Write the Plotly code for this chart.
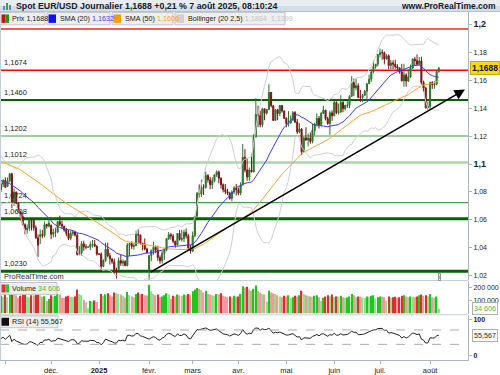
import numpy as np
import pandas as pd
import plotly.graph_objects as go

# ---------------- DATA ----------------
start_date = "2024-10-30"
end_date = "2025-08-07"

# closes before the first visible candle (warm-up for SMA / Bollinger / RSI)
prior_close = [1.1026, 1.1130, 1.1151, 1.1113, 1.1191, 1.1162, 1.1183, 1.1119, 1.1077, 1.1048,
               1.1071, 1.1045, 1.1087, 1.1111, 1.1085, 1.1039, 1.1016, 1.1011, 1.1076, 1.1076,
               1.1132, 1.1116, 1.1117, 1.1162, 1.1163, 1.1111, 1.1180, 1.1133, 1.1176, 1.1163,
               1.1135, 1.1068, 1.1047, 1.1032, 1.0974, 1.0974, 1.0978, 1.0940, 1.0937, 1.0936,
               1.0910, 1.0892, 1.0862, 1.0833, 1.0867, 1.0818, 1.0796, 1.0780, 1.0827, 1.0797,
               1.0815, 1.0815]

open_ = [1.0815, 1.0855, 1.0884, 1.0840, 1.0880, 1.0930, 1.0728, 1.0800, 1.0719, 1.0656, 1.0623, 1.0565,
         1.0530, 1.0541, 1.0598, 1.0596, 1.0543, 1.0472, 1.0480, 1.0494, 1.0488, 1.0566, 1.0555,
         1.0560, 1.0497, 1.0510, 1.0512, 1.0587, 1.0567, 1.0553, 1.0527, 1.0502, 1.0467, 1.0502, 1.0513,
         1.0490, 1.0351, 1.0364, 1.0428, 1.0404, 1.0404, 1.0405, 1.0422, 1.0425, 1.0411,
         1.0354, 1.0354, 1.0266, 1.0308, 1.0389, 1.0342, 1.0319, 1.0299, 1.0244, 1.0244, 1.0307, 1.0289,
         1.0301, 1.0272, 1.0419, 1.0430, 1.0408, 1.0415, 1.0495, 1.0491, 1.0431, 1.0421, 1.0390,
         1.0240, 1.0343, 1.0378, 1.0403, 1.0383, 1.0329, 1.0306, 1.0360, 1.0381, 1.0465, 1.0493, 1.0483,
         1.0446, 1.0420, 1.0502, 1.0459, 1.0466, 1.0510, 1.0485, 1.0398,
         1.0375, 1.0486, 1.0626, 1.0790, 1.0784, 1.0834, 1.0833, 1.0918, 1.0888, 1.0852, 1.0880, 1.0923,
         1.0944, 1.0899, 1.0852, 1.0816, 1.0802, 1.0791, 1.0753, 1.0799, 1.0829,
         1.0816, 1.0792, 1.0852, 1.1049, 1.0958, 1.0908, 1.0958, 1.0944, 1.1196, 1.1357, 1.1347, 1.1283,
         1.1397, 1.1366, 1.1392, 1.1515, 1.1419, 1.1314, 1.1390, 1.1363, 1.1421, 1.1382,
         1.1329, 1.1291, 1.1297, 1.1315, 1.1370, 1.1302, 1.1232, 1.1252, 1.1089, 1.1189, 1.1174, 1.1187,
         1.1163, 1.1241, 1.1285, 1.1329, 1.1282, 1.1364, 1.1387, 1.1326, 1.1292, 1.1368,
         1.1347, 1.1443, 1.1370, 1.1374, 1.1444, 1.1398, 1.1422, 1.1422, 1.1487, 1.1585, 1.1548, 1.1563,
         1.1481, 1.1479, 1.1495, 1.1523, 1.1578, 1.1609, 1.1661, 1.1701, 1.1718,
         1.1787, 1.1801, 1.1800, 1.1755, 1.1778, 1.1708, 1.1727, 1.1718, 1.1700, 1.1690, 1.1663, 1.1598,
         1.1640, 1.1597, 1.1626, 1.1690, 1.1754, 1.1743, 1.1717, 1.1741, 1.1587, 1.1546, 1.1404,
         1.1415, 1.1586, 1.1570, 1.1573, 1.1664]

high = [1.0870, 1.0890, 1.0905, 1.0904, 1.0937, 1.0937, 1.0826, 1.0802, 1.0727, 1.0666, 1.0653, 1.0575,
        1.0567, 1.0607, 1.0609, 1.0608, 1.0560, 1.0495, 1.0532, 1.0527, 1.0588, 1.0572, 1.0597,
        1.0567, 1.0537, 1.0544, 1.0591, 1.0630, 1.0594, 1.0558, 1.0542, 1.0528, 1.0523, 1.0525, 1.0515,
        1.0507, 1.0412, 1.0447, 1.0450, 1.0425, 1.0410, 1.0444, 1.0456, 1.0455, 1.0417,
        1.0360, 1.0366, 1.0317, 1.0437, 1.0436, 1.0363, 1.0323, 1.0322, 1.0256, 1.0330, 1.0353, 1.0316,
        1.0310, 1.0434, 1.0436, 1.0446, 1.0433, 1.0522, 1.0533, 1.0493, 1.0435, 1.0467, 1.0401,
        1.0347, 1.0388, 1.0442, 1.0416, 1.0414, 1.0345, 1.0375, 1.0400, 1.0470, 1.0513, 1.0506, 1.0497,
        1.0450, 1.0505, 1.0528, 1.0528, 1.0529, 1.0538, 1.0499, 1.0418,
        1.0516, 1.0628, 1.0800, 1.0854, 1.0889, 1.0855, 1.0947, 1.0929, 1.0908, 1.0906, 1.0928, 1.0955,
        1.0954, 1.0905, 1.0862, 1.0857, 1.0822, 1.0802, 1.0812, 1.0842, 1.0858,
        1.0832, 1.0870, 1.1145, 1.1108, 1.1045, 1.0976, 1.1075, 1.1215, 1.1474, 1.1420, 1.1384, 1.1404,
        1.1400, 1.1396, 1.1573, 1.1519, 1.1425, 1.1395, 1.1397, 1.1424, 1.1425, 1.1385,
        1.1336, 1.1381, 1.1349, 1.1381, 1.1380, 1.1324, 1.1294, 1.1258, 1.1197, 1.1265, 1.1219, 1.1228,
        1.1288, 1.1297, 1.1364, 1.1346, 1.1376, 1.1419, 1.1390, 1.1340, 1.1384, 1.1387,
        1.1454, 1.1451, 1.1435, 1.1495, 1.1452, 1.1426, 1.1452, 1.1495, 1.1631, 1.1614, 1.1614, 1.1580,
        1.1533, 1.1503, 1.1532, 1.1580, 1.1642, 1.1679, 1.1744, 1.1719, 1.1790,
        1.1830, 1.1823, 1.1808, 1.1790, 1.1788, 1.1748, 1.1746, 1.1749, 1.1717, 1.1695, 1.1720, 1.1721,
        1.1653, 1.1680, 1.1715, 1.1760, 1.1770, 1.1788, 1.1768, 1.1771, 1.1599, 1.1555, 1.1450,
        1.1592, 1.1595, 1.1595, 1.1671, 1.1698]

low = [1.0800, 1.0836, 1.0830, 1.0835, 1.0870, 1.0683, 1.0700, 1.0712, 1.0651, 1.0595, 1.0558, 1.0496,
       1.0500, 1.0520, 1.0523, 1.0522, 1.0462, 1.0333, 1.0426, 1.0467, 1.0474, 1.0538, 1.0545,
       1.0460, 1.0473, 1.0475, 1.0504, 1.0555, 1.0537, 1.0515, 1.0482, 1.0454, 1.0453, 1.0485, 1.0480,
       1.0343, 1.0344, 1.0343, 1.0378, 1.0388, 1.0398, 1.0383, 1.0400, 1.0405, 1.0343,
       1.0348, 1.0226, 1.0260, 1.0298, 1.0331, 1.0279, 1.0284, 1.0214, 1.0178, 1.0240, 1.0270, 1.0266,
       1.0266, 1.0265, 1.0340, 1.0390, 1.0385, 1.0410, 1.0435, 1.0424, 1.0380, 1.0381, 1.0359,
       1.0141, 1.0303, 1.0350, 1.0360, 1.0305, 1.0285, 1.0285, 1.0313, 1.0374, 1.0455, 1.0457, 1.0431,
       1.0400, 1.0418, 1.0450, 1.0443, 1.0441, 1.0466, 1.0383, 1.0359,
       1.0370, 1.0474, 1.0620, 1.0760, 1.0763, 1.0778, 1.0823, 1.0867, 1.0821, 1.0822, 1.0869, 1.0908,
       1.0862, 1.0824, 1.0797, 1.0784, 1.0777, 1.0745, 1.0733, 1.0785, 1.0775,
       1.0778, 1.0776, 1.0846, 1.0940, 1.0880, 1.0880, 1.0940, 1.0941, 1.1191, 1.1265, 1.1264, 1.1265,
       1.1315, 1.1355, 1.1390, 1.1407, 1.1313, 1.1310, 1.1316, 1.1345, 1.1370, 1.1325,
       1.1265, 1.1270, 1.1290, 1.1313, 1.1294, 1.1216, 1.1222, 1.1065, 1.1084, 1.1166, 1.1128, 1.1147,
       1.1150, 1.1206, 1.1270, 1.1256, 1.1273, 1.1363, 1.1314, 1.1283, 1.1211, 1.1311,
       1.1345, 1.1359, 1.1356, 1.1370, 1.1372, 1.1384, 1.1403, 1.1401, 1.1483, 1.1489, 1.1529, 1.1473,
       1.1447, 1.1446, 1.1491, 1.1453, 1.1574, 1.1590, 1.1652, 1.1685, 1.1702,
       1.1766, 1.1749, 1.1716, 1.1751, 1.1682, 1.1682, 1.1683, 1.1684, 1.1671, 1.1650, 1.1594, 1.1556,
       1.1556, 1.1590, 1.1620, 1.1683, 1.1705, 1.1707, 1.1711, 1.1571, 1.1520, 1.1400, 1.1391,
       1.1392, 1.1540, 1.1541, 1.1566, 1.1656]

close = [1.0855, 1.0884, 1.0833, 1.0880, 1.0930, 1.0728, 1.0800, 1.0719, 1.0656, 1.0623, 1.0565, 1.0530,
         1.0541, 1.0598, 1.0596, 1.0543, 1.0472, 1.0418, 1.0494, 1.0488, 1.0566, 1.0555, 1.0577,
         1.0497, 1.0510, 1.0512, 1.0587, 1.0567, 1.0553, 1.0527, 1.0502, 1.0467, 1.0502, 1.0513, 1.0490,
         1.0351, 1.0364, 1.0428, 1.0404, 1.0404, 1.0405, 1.0422, 1.0425, 1.0411, 1.0354,
         1.0354, 1.0266, 1.0308, 1.0389, 1.0342, 1.0319, 1.0299, 1.0244, 1.0244, 1.0307, 1.0289, 1.0301,
         1.0272, 1.0419, 1.0430, 1.0408, 1.0415, 1.0495, 1.0491, 1.0431, 1.0421, 1.0390, 1.0362,
         1.0343, 1.0378, 1.0403, 1.0383, 1.0329, 1.0306, 1.0360, 1.0381, 1.0465, 1.0493, 1.0483, 1.0446,
         1.0420, 1.0502, 1.0459, 1.0466, 1.0510, 1.0485, 1.0398, 1.0375,
         1.0486, 1.0626, 1.0790, 1.0784, 1.0834, 1.0833, 1.0918, 1.0888, 1.0852, 1.0880, 1.0923, 1.0944,
         1.0899, 1.0852, 1.0816, 1.0802, 1.0791, 1.0753, 1.0799, 1.0829, 1.0816,
         1.0792, 1.0852, 1.1049, 1.0958, 1.0908, 1.0958, 1.0944, 1.1196, 1.1357, 1.1347, 1.1283, 1.1397,
         1.1366, 1.1392, 1.1515, 1.1419, 1.1314, 1.1390, 1.1363, 1.1421, 1.1382, 1.1329,
         1.1291, 1.1297, 1.1315, 1.1370, 1.1302, 1.1232, 1.1252, 1.1089, 1.1189, 1.1174, 1.1187, 1.1163,
         1.1241, 1.1285, 1.1329, 1.1282, 1.1364, 1.1387, 1.1326, 1.1292, 1.1368, 1.1347,
         1.1443, 1.1370, 1.1374, 1.1444, 1.1398, 1.1422, 1.1422, 1.1487, 1.1585, 1.1548, 1.1563, 1.1481,
         1.1479, 1.1495, 1.1523, 1.1578, 1.1609, 1.1661, 1.1701, 1.1718, 1.1787,
         1.1801, 1.1800, 1.1755, 1.1778, 1.1708, 1.1727, 1.1718, 1.1700, 1.1690, 1.1663, 1.1598, 1.1640,
         1.1597, 1.1626, 1.1690, 1.1754, 1.1743, 1.1717, 1.1741, 1.1587, 1.1546, 1.1404, 1.1415,
         1.1586, 1.1570, 1.1573, 1.1664, 1.1688]

volume_k = [135, 128, 150, 125, 160, 210, 170, 140, 120, 135, 145, 150, 130, 125, 140, 138, 145, 175, 140, 128, 132, 95, 110,
            140, 130, 135, 150, 145, 120, 118, 130, 135, 128, 125, 130, 185, 150, 140, 105, 85, 40, 95, 90, 100, 88,
            35, 150, 135, 148, 155, 140, 130, 160, 158, 150, 145, 135, 120, 165, 140, 130, 125, 150, 160, 145, 150, 140, 138,
            220, 170, 150, 140, 145, 125, 130, 140, 155, 145, 110, 135, 130, 145, 140, 135, 145, 140, 150, 145,
            170, 185, 195, 190, 180, 160, 175, 150, 145, 140, 135, 150, 145, 155, 135, 130, 125, 130, 120, 135, 130,
            130, 150, 210, 200, 205, 185, 175, 190, 215, 170, 160, 150, 145, 90, 175, 160, 155, 150, 140, 130, 125, 135,
            130, 140, 120, 125, 135, 130, 140, 175, 150, 140, 135, 130, 128, 135, 140, 125, 95, 120, 130, 140, 130, 145,
            125, 130, 128, 135, 125, 120, 122, 130, 150, 140, 125, 130, 128, 122, 118, 130, 128, 135, 140, 115, 125,
            130, 128, 125, 100, 130, 120, 125, 128, 120, 125, 135, 140, 130, 125, 130, 128, 125, 130, 140, 145, 135, 140, 132,
            150, 125, 120, 130, 34.606]

tick_dates = ["2024-11-01", "2024-12-02", "2025-01-01", "2025-02-03", "2025-03-03", "2025-04-01",
              "2025-05-01", "2025-06-02", "2025-07-01", "2025-08-01"]
tick_labels = ["", "déc.", "<b>2025</b>", "févr.", "mars", "avr.", "mai", "juin", "juil.", "août"]

price_ticks = [1.02, 1.04, 1.06, 1.08, 1.10, 1.12, 1.14, 1.16, 1.18, 1.20]
price_tick_labels = ["1,02", "1,04", "1,06", "1,08", "<b><span style='font-size:9px'>1,1</span></b>", "1,12",
                     "1,14", "1,16", "1,18", "<b><span style='font-size:9px'>1,2</span></b>"]

levels = [1.1970, 1.1674, 1.1460, 1.1202, 1.1012, 1.0724, 1.0608, 1.0230]
level_labels = ["", "1,1674", "1,1460", "1,1202", "1,1012", "1,0724", "1,0608", "1,0230"]
level_colors = ["#ff2020", "#ff0000", "#006400", "#7fbf7f", "#a8d8a8", "#4c9a4c", "#006400", "#006400"]
level_widths = [1.5, 1.5, 2, 1.5, 2.5, 1.2, 3, 3]

trend_start = ("2025-02-03", 1.02179)
trend_end_idx = 213
trend_end_price = 1.15357

last_price = "1,1688"
header_text = "Spot EUR/USD Journalier 1,1688 +0,21 % 7 août 2025, 08:10:24"

# ---------------- INDICATORS ----------------
dates = pd.bdate_range(start_date, end_date)
n = len(dates)
idx = np.arange(n)
o = np.array(open_); h = np.array(high); l = np.array(low); c = np.array(close)
h = np.maximum(h, np.maximum(o, c)); l = np.minimum(l, np.minimum(o, c))
vol = np.array(volume_k) * 1000

allc = pd.Series(prior_close + close)
sma20 = allc.rolling(20).mean().values[-n:]
sma50 = allc.rolling(50).mean().values[-n:]
sd20 = allc.rolling(20).std(ddof=0).values[-n:]
bb_up = sma20 + 2.5 * sd20
bb_lo = sma20 - 2.5 * sd20
d = allc.diff()
ag = d.clip(lower=0).ewm(alpha=1/14, adjust=False).mean()
al = (-d.clip(upper=0)).ewm(alpha=1/14, adjust=False).mean()
rsi = (100 - 100 / (1 + ag / al)).values[-n:]

# volume colours
vcol = []
for i in range(n):
    up = c[i] >= o[i]
    higher = i == 0 or vol[i] >= vol[i - 1]
    if up:
        vcol.append("#22c422" if higher else "#8fe08f")
    else:
        vcol.append("#d83030" if higher else "#f09a9a")

tick_pos = [dates.get_loc(pd.Timestamp(t)) for t in tick_dates]

# ---------------- GEOMETRY ----------------
W, H = 500, 375
def px(x): return x / W
def py(y): return 1 - y / H

XR = [-0.46, 214.4]
XD = [0, px(468)]
MAIN = [py(282), py(11)]
VOLD = [py(316), py(283)]
RSID = [py(362), py(317)]

FONT = "Liberation Sans, Arial, sans-serif"
TXT = "#1a1a2e"
AX = "#a9b7c5"
LEG = 7.2

fig = go.Figure()

fig.add_trace(go.Candlestick(
    x=idx, open=o, high=h, low=l, close=c, xaxis="x", yaxis="y",
    increasing=dict(line=dict(color="#2f6f2f", width=1), fillcolor="#1c9a1c"),
    decreasing=dict(line=dict(color="#7a1414", width=1), fillcolor="#a01010"),
    whiskerwidth=0, hoverinfo="skip"))
fig.add_trace(go.Scatter(x=idx, y=bb_up, mode="lines", line=dict(color="#cfcfcf", width=1), xaxis="x", yaxis="y"))
fig.add_trace(go.Scatter(x=idx, y=bb_lo, mode="lines", line=dict(color="#cfcfcf", width=1), xaxis="x", yaxis="y"))
fig.add_trace(go.Scatter(x=idx, y=sma50, mode="lines", line=dict(color="#f7a634", width=1), xaxis="x", yaxis="y"))
fig.add_trace(go.Scatter(x=idx, y=sma20, mode="lines", line=dict(color="#3a3aff", width=1), xaxis="x", yaxis="y"))

fig.add_trace(go.Bar(x=idx, y=vol, marker=dict(color=vcol, line=dict(width=0)), width=0.62,
                     xaxis="x2", yaxis="y2"))
fig.add_trace(go.Scatter(x=idx, y=rsi, mode="lines", line=dict(color="#222222", width=1), xaxis="x3", yaxis="y3"))

shapes = []
annotations = []

# level lines + labels
for lv, lab, col, wd in zip(levels, level_labels, level_colors, level_widths):
    shapes.append(dict(type="line", xref="x domain", yref="y", x0=0, x1=1, y0=lv, y1=lv,
                       line=dict(color=col, width=wd), layer="below"))
    if lab:
        annotations.append(dict(xref="paper", yref="y", x=px(2), y=lv, text=lab, showarrow=False,
                                xanchor="left", yanchor="bottom", yshift=1,
                                font=dict(size=7.5, color="#222222", family=FONT)))

# RSI 70/30 dashed
for lv in (70, 30):
    shapes.append(dict(type="line", xref="x3 domain", yref="y3", x0=0, x1=1, y0=lv, y1=lv,
                       line=dict(color="#aaaaaa", width=1, dash="dash")))

# panel separators / borders
for y in (282, 316.5):
    shapes.append(dict(type="line", xref="paper", yref="paper", x0=0, x1=px(468), y0=py(y), y1=py(y),
                       line=dict(color="#c5cdd5", width=1)))
shapes.append(dict(type="line", xref="paper", yref="paper", x0=px(0.5), x1=px(0.5), y0=py(362), y1=py(11),
                   line=dict(color="#c5cdd5", width=1)))

# header bar
shapes.append(dict(type="rect", xref="paper", yref="paper", x0=0, x1=1, y0=py(6), y1=1,
                   fillcolor="#e8edf2", line=dict(width=0), layer="above"))
shapes.append(dict(type="rect", xref="paper", yref="paper", x0=0, x1=1, y0=py(11.5), y1=py(6),
                   fillcolor="#d5dee6", line=dict(width=0), layer="above"))
shapes.append(dict(type="line", xref="paper", yref="paper", x0=0, x1=1, y0=py(11.5), y1=py(11.5),
                   line=dict(color="#b4c0cc", width=1), layer="above"))
# header icon
for x0, y0, colr in ((3, 6, "#4a90d0"), (6, 3, "#3aa04a"), (9, 5, "#4a90d0")):
    shapes.append(dict(type="rect", xref="paper", yref="paper", x0=px(x0), x1=px(x0 + 2), y0=py(10), y1=py(y0),
                       fillcolor=colr, line=dict(width=0), layer="above"))
annotations.append(dict(xref="paper", yref="paper", x=px(14), y=py(5.8), text="<b>" + header_text + "</b>",
                        showarrow=False, xanchor="left", yanchor="middle",
                        font=dict(size=8.8, color="#16202c", family=FONT)))
annotations.append(dict(xref="paper", yref="paper", x=px(498), y=py(5.8), text="<b>www.ProRealTime.com</b>",
                        showarrow=False, xanchor="right", yanchor="middle",
                        font=dict(size=8.5, color="#16202c", family=FONT)))

# legend boxes
def legend_box(x0, x1, y0, y1, sq_cols, text, tx):
    shapes.append(dict(type="rect", xref="paper", yref="paper", x0=px(x0), x1=px(x1), y0=py(y1), y1=py(y0),
                       fillcolor="#eeeeee", line=dict(color="#c4c4c4", width=1), layer="above"))
    k = len(sq_cols)
    for j, sc in enumerate(sq_cols):
        shapes.append(dict(type="rect", xref="paper", yref="paper",
                           x0=px(x0 + 1.5 + j * 7.5 / k), x1=px(x0 + 1.5 + (j + 1) * 7.5 / k),
                           y0=py(y1 - 2), y1=py(y0 + 2), fillcolor=sc, line=dict(width=0), layer="above"))
    annotations.append(dict(xref="paper", yref="paper", x=px(tx), y=py((y0 + y1) / 2), text=text,
                            showarrow=False, xanchor="left", yanchor="middle",
                            font=dict(size=LEG, color="#222222", family=FONT)))

legend_box(0, 45, 12.5, 25, ["#cc1010", "#10a010"], "Prix 1,1688", 10)
legend_box(47, 110, 12.5, 25, ["#1010ff"], "SMA (20) <span style='color:#4040ff'>1,1632</span>", 58)
legend_box(112, 173, 12.5, 25, ["#ff9900"], "SMA (50) <span style='color:#ffa020'>1,1606</span>", 123)
legend_box(175, 285, 12.5, 25, ["#d0d0d0"], "Bollinger (20 2,5) <span style='color:#c4c4c4'>1,1884  1,1399</span>", 186)
legend_box(0, 57, 284, 296, ["#dd3030", "#30c030"], "Volume <span style='color:#40c040'>34 606</span>", 10)
legend_box(0, 58, 317.5, 329.5, ["#111111"], "RSI (14) 55,567", 10)

annotations.append(dict(xref="paper", yref="paper", x=px(2), y=py(277.5), text="ProRealTime.com",
                        showarrow=False, xanchor="left", yanchor="middle",
                        font=dict(size=7.5, color="#333333", family=FONT)))
annotations.append(dict(xref="paper", yref="paper", x=px(439), y=py(278), text="i", showarrow=False,
                        xanchor="center", yanchor="middle", bgcolor="#f4f4f4", bordercolor="#999999",
                        borderwidth=1, borderpad=0, font=dict(size=6, color="#555555", family=FONT)))

# trend line with arrow
annotations.append(dict(xref="x", yref="y", axref="x", ayref="y",
                        x=trend_end_idx, y=trend_end_price,
                        ax=dates.get_loc(pd.Timestamp(trend_start[0])), ay=trend_start[1],
                        text="", showarrow=True, arrowhead=2, arrowsize=1.3, arrowwidth=1.6,
                        arrowcolor="#000000", standoff=0, startstandoff=0))

# right side value labels
annotations.append(dict(xref="paper", yref="y", x=px(469.5), y=c[-1], text="<b>" + last_price + "</b>",
                        showarrow=False, xanchor="left", yanchor="middle", bgcolor="#f7d81a",
                        bordercolor="#c9a800", borderwidth=1, borderpad=1,
                        font=dict(size=8.5, color="#111111", family=FONT)))
annotations.append(dict(xref="paper", yref="y2", x=px(471.5), y=vol[-1], text="34 606",
                        showarrow=False, xanchor="left", yanchor="middle", bgcolor="#ffffff",
                        bordercolor="#b0b0b0", borderwidth=1, borderpad=1,
                        font=dict(size=7.2, color="#40c040", family=FONT)))
annotations.append(dict(xref="paper", yref="y3", x=px(471.5), y=55.567, text="55,567",
                        showarrow=False, xanchor="left", yanchor="middle", bgcolor="#ffffff",
                        bordercolor="#b0b0b0", borderwidth=1, borderpad=1,
                        font=dict(size=7.2, color="#222222", family=FONT)))

common_x = dict(domain=XD, range=XR, showgrid=False, zeroline=False, showticklabels=False,
                fixedrange=True)
common_y = dict(side="right", showgrid=False, zeroline=False, ticks="outside", ticklen=3,
                tickcolor=AX, showline=True, linecolor=AX, linewidth=1,
                tickfont=dict(size=7, color=TXT, family=FONT), fixedrange=True)

fig.update_layout(
    width=W, height=H, margin=dict(l=0, r=0, t=0, b=0, pad=0),
    paper_bgcolor="#ffffff", plot_bgcolor="#ffffff", showlegend=False,
    separators=", ", font=dict(family=FONT, size=8, color=TXT),
    bargap=0.3,
    xaxis=dict(**common_x, anchor="y", rangeslider=dict(visible=False)),
    xaxis2=dict(**common_x, anchor="y2", matches="x"),
    xaxis3=dict(domain=XD, range=XR, showgrid=False, zeroline=False, matches="x", anchor="y3",
                tickmode="array", tickvals=tick_pos, ticktext=tick_labels, ticks="outside",
                ticklen=3, tickcolor=AX, showline=True, linecolor=AX, linewidth=1,
                tickfont=dict(size=7.5, color=TXT, family=FONT), fixedrange=True),
    yaxis=dict(**common_y, domain=MAIN, range=[1.01643, 1.21], anchor="x",
               tickmode="array", tickvals=price_ticks, ticktext=price_tick_labels),
    yaxis2=dict(**common_y, domain=VOLD, range=[-7700, 246000], anchor="x2",
                tickmode="array", tickvals=[100000, 200000], ticktext=["100 000", "200 000"]),
    yaxis3=dict(**common_y, domain=RSID, range=[-13.9, 111], anchor="x3",
                tickmode="array", tickvals=[0, 100], ticktext=["<b>0</b>", "<b>100</b>"]),
    shapes=shapes, annotations=annotations,
)

fig.write_html("out.html", config={"displayModeBar": False},
               post_script="document.body.style.margin='0';document.body.style.overflow='hidden';")
